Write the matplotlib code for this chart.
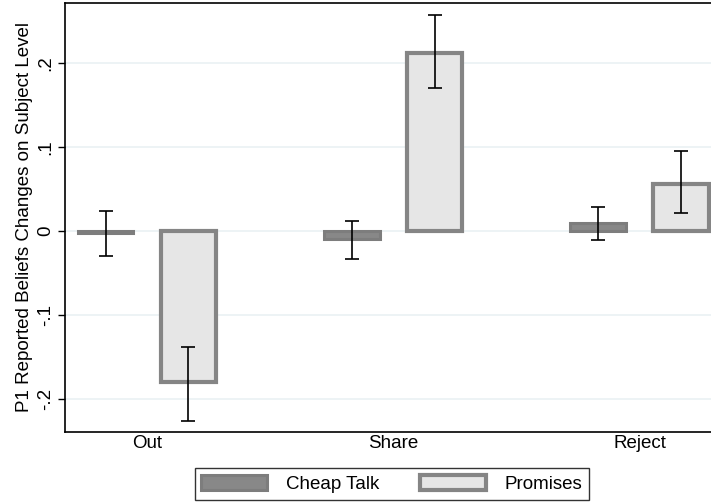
import matplotlib.pyplot as plt
import numpy as np

plt.rcParams['font.family'] = ['Liberation Sans', 'DejaVu Sans']

groups = ["Out", "Share", "Reject"]
cheap = [-0.003, -0.010, 0.009]
cheap_lo = [-0.030, -0.033, -0.011]
cheap_hi = [0.024, 0.012, 0.029]
prom = [-0.180, 0.212, 0.056]
prom_lo = [-0.226, 0.170, 0.021]
prom_hi = [-0.138, 0.257, 0.095]

x = np.arange(len(groups))
w = 0.225
off = 0.168
fs = 13.5

fig = plt.figure(figsize=(7.11, 5.04), dpi=100)
ax = fig.add_axes([65 / 711, 1 - 432 / 504, 646 / 711, 429 / 504])

ax.bar(x - off, cheap, w, color="#888888", edgecolor="#7d7d7d", linewidth=2.2, label="Cheap Talk", zorder=2)
ax.bar(x + off, prom, w, color="#e6e6e6", edgecolor="#858585", linewidth=3, label="Promises", zorder=2)

c = np.array(cheap)
p = np.array(prom)
ax.errorbar(x - off, c, yerr=[c - np.array(cheap_lo), np.array(cheap_hi) - c], fmt="none",
            ecolor="black", elinewidth=1.2, capsize=5, capthick=1.2, zorder=3)
ax.errorbar(x + off, p, yerr=[p - np.array(prom_lo), np.array(prom_hi) - p], fmt="none",
            ecolor="black", elinewidth=1.2, capsize=5, capthick=1.2, zorder=3)

ax.set_xlim(-0.333, 2.29)
ax.set_ylim(-0.239, 0.271)
ax.set_xticks(x)
ax.set_xticklabels(groups, fontsize=fs)
ax.tick_params(axis="x", length=0, pad=2)
yt = [-0.2, -0.1, 0, 0.1, 0.2]
ax.set_yticks(yt)
ax.set_yticklabels(["-.2", "-.1", "0", ".1", ".2"], rotation=90, va="center", fontsize=fs)
ax.tick_params(axis="y", length=5, width=1, pad=3)
ax.yaxis.grid(True, color="#eaf1f3", linewidth=1.2, zorder=0)
ax.set_axisbelow(True)
ax.spines["right"].set_visible(False)
for s in ["left", "top", "bottom"]:
    ax.spines[s].set_linewidth(1.2)
ax.set_ylabel("P1 Reported Beliefs Changes on Subject Level", fontsize=fs, labelpad=3)

fig.legend(loc="center", bbox_to_anchor=(392 / 711, 1 - 484 / 504), ncol=2, fontsize=fs,
           frameon=True, fancybox=False, edgecolor="black", handlelength=3.5, handleheight=0.9,
           columnspacing=2.2, handletextpad=1.0, borderpad=0.35)

fig.savefig("out.png", dpi=100)
